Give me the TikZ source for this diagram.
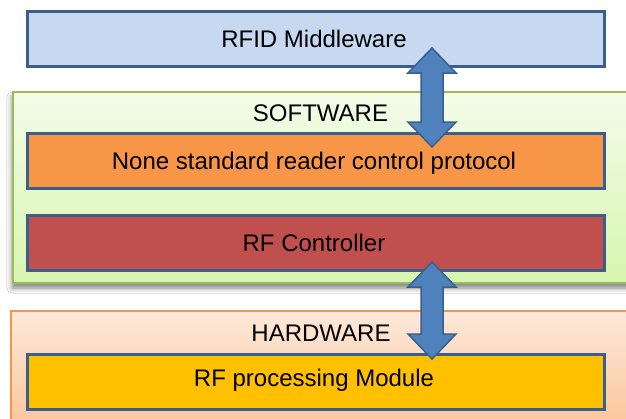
\documentclass[tikz,border=0pt]{standalone}
\usepackage{fontspec}
\setmainfont{Liberation Sans}
\usetikzlibrary{calc,shadows.blur}

\definecolor{mwfill}{HTML}{C6D9F1}
\definecolor{boxline}{HTML}{3B5E8C}
\definecolor{protofill}{HTML}{F79646}
\definecolor{ctrlfill}{HTML}{C0504D}
\definecolor{modfill}{HTML}{FFC000}
\definecolor{arrowfill}{HTML}{4F81BD}
\definecolor{arrowline}{HTML}{3A5F8E}
\definecolor{swline}{HTML}{9BBB59}
\definecolor{swtop}{HTML}{F4FCE9}
\definecolor{swbot}{HTML}{D6F6AE}
\definecolor{hwline}{HTML}{F79646}
\definecolor{hwtop}{HTML}{FDE9DA}
\definecolor{hwbot}{HTML}{FBC193}

\tikzset{
  layerbox/.style={draw=boxline, line width=2.5pt, minimum width=577pt,
    minimum height=55pt, anchor=north west, inner sep=0pt},
  swpanel/.style={draw=swline, line width=2pt, top color=swtop, bottom color=swbot,
    minimum width=630pt, minimum height=191pt, anchor=north west, inner sep=0pt,
    blur shadow={shadow xshift=-1pt, shadow yshift=-5pt, shadow blur radius=5pt,
      shadow opacity=50}},
  hwpanel/.style={draw=hwline, line width=2pt, top color=hwtop, bottom color=hwbot,
    minimum width=630pt, minimum height=130pt, anchor=north west, inner sep=0pt},
  label/.style={anchor=base, inner sep=0pt, font=\fontsize{24pt}{28pt}\selectfont},
  fatarrow/.style={draw=arrowline, line width=1.5pt, fill=arrowfill, line join=miter},
}

% double-headed block arrow between two named tips
\newcommand\blockarrow[2]{%
  \draw[fatarrow] (#1) -- ++(24,25) -- ++(-13,0) -- ($(#2)+(11,-25)$)
    -- ++(13,0) -- (#2) -- ++(-24,-25) -- ++(13,0) -- ($(#1)+(-11,25)$)
    -- ++(-13,0) -- cycle;}

\begin{document}
\begin{tikzpicture}[x=1pt,y=-1pt]
\useasboundingbox (0,0) rectangle (626,418);
\clip (0,0) rectangle (626,418);
\fill[white] (0,0) rectangle (626,418);

% software and hardware layers
\node[swpanel] (sw) at (12,91) {};
\node[hwpanel] (hw) at (10,310) {};

% component boxes
\node[layerbox, fill=mwfill]    (mw)    at (26,10)  {};
\node[layerbox, fill=protofill] (proto) at (26,132) {};
\node[layerbox, fill=ctrlfill]  (ctrl)  at (26,214) {};
\node[layerbox, fill=modfill]   (mod)   at (26,353) {};

% labels
\node[label] (mwtext)    at (314,47.3)  {RFID Middleware};
\node[label] (swtext)    at (320.5,121.7) {SOFTWARE};
\node[label] (prototext) at (314,169.3) {None standard reader control protocol};
\node[label] (ctrltext)  at (314,251.5) {RF Controller};
\node[label] (hwtext)    at (321,341.7) {HARDWARE};
\node[label] (modtext)   at (314,386.7) {RF processing Module};

% connectors
\coordinate (a1t) at ($(mw.north west)+(406,38)$);
\coordinate (a1b) at ($(proto.north west)+(406,15)$);
\coordinate (a2t) at ($(ctrl.north west)+(406,48)$);
\coordinate (a2b) at ($(mod.north west)+(406,6)$);
\blockarrow{a1t}{a1b}
\blockarrow{a2t}{a2b}
\end{tikzpicture}
\end{document}
